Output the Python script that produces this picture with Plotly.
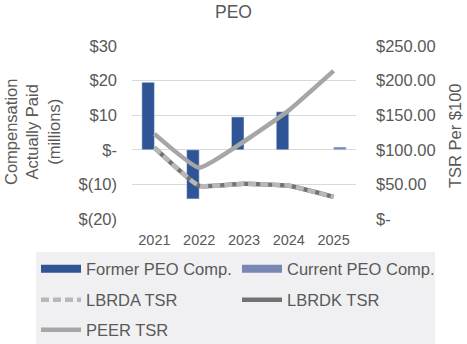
import plotly.graph_objects as go

years = ["2021", "2022", "2023", "2024", "2025"]
former_peo = [19.5, -14.2, 9.5, 11.0, None]
current_peo = [None, None, None, None, 0.8]
lbrda_tsr = [103, 48, 51, 48, 32]
lbrdk_tsr = [103, 48, 51, 48, 32]
peer_tsr = [123, 74, 112, 157, 214]

left_ticks = [-20, -10, 0, 10, 20, 30]
left_labels = ["$(20)", "$(10)", "$-", "$10", "$20", "$30"]
right_ticks = [0, 50, 100, 150, 200, 250]
right_labels = ["$-", "$50.00", "$100.00", "$150.00", "$200.00", "$250.00"]

FONT = "Liberation Sans, Arial, sans-serif"
TXT = "#595959"
C_FORMER = "#2f5597"
C_CURRENT = "#7886b4"
C_LBRDA = "#b8b8b8"
C_LBRDK = "#737373"
C_PEER = "#a6a6a6"

W, H = 467, 344
PL, PR, PT, PB = 132, 356, 46, 219  # plot area in pixels

fig = go.Figure()
fig.add_trace(go.Bar(x=years, y=former_peo, name="Former PEO Comp.",
                     marker_color=C_FORMER, showlegend=False))
fig.add_trace(go.Bar(x=years, y=current_peo, name="Current PEO Comp.",
                     marker_color=C_CURRENT, showlegend=False))
fig.add_trace(go.Scatter(x=years, y=lbrdk_tsr, name="LBRDK TSR", yaxis="y2",
                         mode="lines", legend="legend4",
                         line=dict(color=C_LBRDK, width=4.5, shape="spline", smoothing=0.4)))
fig.add_trace(go.Scatter(x=years, y=lbrda_tsr, name="LBRDA TSR", yaxis="y2",
                         mode="lines", legend="legend3",
                         line=dict(color=C_LBRDA, width=4.5, dash="8px,4px", shape="spline", smoothing=0.4)))
fig.add_trace(go.Scatter(x=years, y=peer_tsr, name="PEER TSR", yaxis="y2",
                         mode="lines", legend="legend5",
                         line=dict(color=C_PEER, width=4.5, shape="spline", smoothing=0.4)))
# legend keys for the bars drawn as wide rectangles
fig.add_trace(go.Scatter(x=[None], y=[None], name="Former PEO Comp.", mode="lines",
                         legend="legend", line=dict(color=C_FORMER, width=8)))
fig.add_trace(go.Scatter(x=[None], y=[None], name="Current PEO Comp.", mode="lines",
                         legend="legend2", line=dict(color=C_CURRENT, width=8)))

def cx(pix):
    return pix / W
def cy(pix):
    return 1 - pix / H
def px(pix):
    return (pix - PL) / (PR - PL)
def py(pix):
    return (PB - pix) / (PB - PT)

def leg(xpix, ypix):
    return dict(orientation="v", xref="container", yref="container",
                x=cx(xpix), y=cy(ypix), xanchor="left", yanchor="middle",
                bgcolor="rgba(0,0,0,0)", font=dict(size=16.5, color=TXT),
                itemwidth=40)

fig.update_layout(
    width=W, height=H,
    margin=dict(l=PL, r=W - PR, t=PT, b=H - PB, autoexpand=False),
    paper_bgcolor="white", plot_bgcolor="white",
    font=dict(family=FONT, color=TXT, size=15),
    title=dict(text="PEO", x=0.5, xanchor="center", y=0.965, yanchor="middle",
               font=dict(size=17.5, color=TXT)),
    barmode="group", bargap=0.44, bargroupgap=0,
    xaxis=dict(type="category", showgrid=False, showline=False, ticks="",
               tickfont=dict(size=14.5), ticklabelstandoff=10),
    yaxis=dict(range=[-20, 30], tickvals=left_ticks, ticktext=left_labels,
               showgrid=True, gridcolor="#d9d9d9", gridwidth=1, zeroline=False,
               showline=False, ticks="", tickfont=dict(size=16.5),
               ticklabelstandoff=14),
    yaxis2=dict(range=[0, 250], tickvals=right_ticks, ticktext=right_labels,
                overlaying="y", side="right", showgrid=False, zeroline=False,
                showline=False, ticks="", tickfont=dict(size=16.5),
                ticklabelstandoff=19),
    annotations=[
        dict(text="Compensation<br>Actually Paid<br>(millions)", textangle=-90,
             xref="paper", yref="paper", x=px(32), y=py(132),
             xanchor="center", yanchor="middle", showarrow=False,
             font=dict(size=16.5, color=TXT)),
        dict(text="TSR Per $100", textangle=-90,
             xref="paper", yref="paper", x=px(455), y=py(136),
             xanchor="center", yanchor="middle", showarrow=False,
             font=dict(size=16.5, color=TXT)),
    ],
    legend=leg(36, 269),
    legend2=leg(237, 269),
    legend3=leg(36, 300),
    legend4=leg(237, 300),
    legend5=leg(36, 330),
    shapes=[dict(type="rect", xref="paper", yref="paper", layer="below",
                 x0=px(36), x1=px(435), y0=py(252), y1=py(344),
                 fillcolor="#f0f0f2", line=dict(width=0))],
)

fig.write_html("out.html")
